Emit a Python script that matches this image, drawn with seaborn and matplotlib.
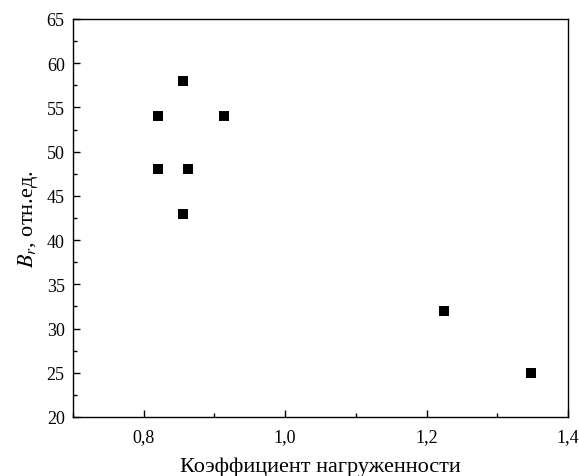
import matplotlib
matplotlib.use("Agg")
import matplotlib.pyplot as plt
import seaborn as sns
import pandas as pd
from matplotlib.ticker import MultipleLocator, FuncFormatter

x_vals = [0.82, 0.82, 0.856, 0.856, 0.862, 0.913, 1.225, 1.348]
y_vals = [54, 48, 58, 43, 48, 54, 32, 25]

df = pd.DataFrame({"k": x_vals, "b": y_vals})

sns.set_theme(style="ticks")
plt.rcParams["font.family"] = ["Liberation Serif", "DejaVu Serif"]
plt.rcParams["mathtext.fontset"] = "stix"

fig = plt.figure(figsize=(5.79, 4.77), dpi=100)
ax = fig.add_axes([73/579, 1-418/477, (568-73)/579, (418-20)/477])
sns.scatterplot(data=df, x="k", y="b", marker="s", s=42, color="black",
                edgecolor="black", linewidth=0, ax=ax)
ax.set_xlim(0.7, 1.4)
ax.set_ylim(20, 65)
ax.xaxis.set_major_locator(MultipleLocator(0.2))
ax.xaxis.set_minor_locator(MultipleLocator(0.1))
ax.yaxis.set_major_locator(MultipleLocator(5))
ax.yaxis.set_minor_locator(MultipleLocator(2.5))
ax.xaxis.set_major_formatter(FuncFormatter(lambda v, p: f"{v:.1f}".replace(".", ",")))
ax.tick_params(which="both", direction="in", colors="black", labelsize=13)
ax.tick_params(axis="x", which="major", pad=8)
ax.tick_params(axis="y", which="major", pad=6)
ax.tick_params(which="major", length=5, width=1)
ax.tick_params(which="minor", length=3, width=1)
for s in ax.spines.values():
    s.set_color("black")
    s.set_linewidth(1)
ax.set_xlabel("Коэффициент нагруженности", fontsize=16, labelpad=8, color="black")
ax.set_ylabel("$B_r$, отн.ед.", fontsize=16, labelpad=5, color="black")
fig.savefig("out.png", dpi=100)
